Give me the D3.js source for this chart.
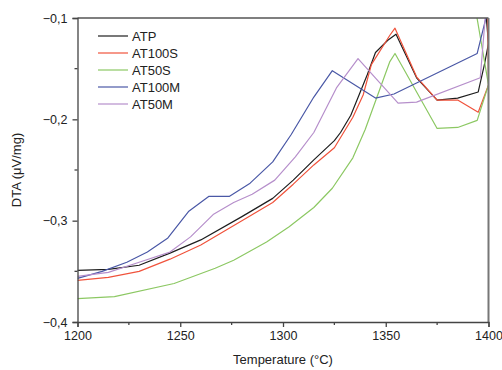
<!DOCTYPE html>
<html>
<head>
<meta charset="utf-8">
<script src="https://cdn.jsdelivr.net/npm/d3@7"></script>
<style>
  body { margin: 0; background: #fff; }
  text { font-family: "Liberation Sans", Arial, sans-serif; fill: #222; }
</style>
</head>
<body>
<script>
// series: temperature (°C) and DTA (µV/mg)
const seriesNames = ['ATP', 'AT100S', 'AT50S', 'AT100M', 'AT50M'];
const seriesColors = ['#1e1e1e', '#f0533c', '#8cc863', '#4a58a6', '#b68fcb'];

const atpT = [1200, 1215, 1230, 1245, 1260, 1280, 1295, 1305, 1315, 1325, 1328, 1333, 1337, 1341, 1345, 1351, 1355, 1365, 1375, 1385, 1395, 1398, 1400, 1398.5];
const atpV = [-0.349, -0.348, -0.344, -0.332, -0.319, -0.296, -0.278, -0.260, -0.240, -0.221, -0.213, -0.196, -0.176, -0.156, -0.134, -0.122, -0.116, -0.159, -0.181, -0.179, -0.173, -0.146, -0.125, -0.09];

const at100sT = [1200, 1215, 1230, 1245, 1260, 1280, 1295, 1305, 1315, 1325, 1334, 1339, 1343, 1352, 1354.5, 1365, 1375, 1385, 1395, 1400, 1399.5];
const at100sV = [-0.359, -0.356, -0.350, -0.338, -0.324, -0.300, -0.282, -0.264, -0.245, -0.228, -0.198, -0.176, -0.146, -0.117, -0.110, -0.158, -0.181, -0.181, -0.193, -0.166, -0.09];

const at50sT = [1200, 1218, 1247, 1267, 1276, 1292, 1303, 1315, 1324, 1334, 1340, 1352, 1354.5, 1375, 1385, 1394.5, 1400, 1394];
const at50sV = [-0.377, -0.375, -0.362, -0.347, -0.339, -0.321, -0.306, -0.287, -0.268, -0.238, -0.210, -0.143, -0.135, -0.209, -0.208, -0.201, -0.166, -0.095];

const at100mT = [1200, 1212, 1224, 1234, 1244, 1254, 1264, 1274, 1284, 1295, 1304, 1315, 1324, 1345, 1354, 1394.5, 1399, 1399.6];
const at100mV = [-0.357, -0.350, -0.341, -0.331, -0.317, -0.291, -0.276, -0.276, -0.263, -0.242, -0.215, -0.178, -0.152, -0.179, -0.175, -0.135, -0.098, -0.08];

const at50mT = [1200, 1215, 1230, 1245, 1255, 1266, 1276, 1285, 1296, 1306, 1315, 1326, 1336.5, 1356, 1365, 1396, 1398.3, 1399];
const at50mV = [-0.355, -0.351, -0.341, -0.331, -0.316, -0.294, -0.282, -0.274, -0.260, -0.237, -0.213, -0.169, -0.140, -0.184, -0.183, -0.159, -0.102, -0.085];

const xTicks = [1200, 1250, 1300, 1350, 1400];
const xMinor = [1225, 1275, 1325, 1375];
const yTicks = [-0.1, -0.2, -0.3, -0.4];
const yMinor = [-0.15, -0.25, -0.35];

const seriesData = [
    d3.zip(atpT, atpV),
    d3.zip(at100sT, at100sV),
    d3.zip(at50sT, at50sV),
    d3.zip(at100mT, at100mV),
    d3.zip(at50mT, at50mV)
];

const chart = { w: 502, h: 370, left: 77.5, right: 488.5, top: 18, bottom: 322 };

const svg = d3.select('body')
    .append('svg')
    .attr('width', chart.w)
    .attr('height', chart.h);

// SCALES

const xScale = d3.scaleLinear()
    .domain([1200, 1400])
    .range([chart.left, chart.right]);

const yScale = d3.scaleLinear()
    .domain([-0.4, -0.1])
    .range([chart.bottom, chart.top]);

const fmt = d3.format('.1f');
const comma = d => fmt(d).replace('.', ',');

// CLIP

svg.append('clipPath')
    .attr('id', 'plot')
    .append('rect')
    .attr('x', chart.left)
    .attr('y', chart.top)
    .attr('width', chart.right - chart.left)
    .attr('height', chart.bottom - chart.top);

// LINES

const line = d3.line()
    .x(d => xScale(d[0]))
    .y(d => yScale(d[1]));

svg.append('g')
    .attr('clip-path', 'url(#plot)')
    .selectAll('path')
    .data(seriesData)
    .enter()
    .append('path')
    .attr('d', line)
    .attr('fill', 'none')
    .attr('stroke', (d, i) => seriesColors[i])
    .attr('stroke-width', 1.2)
    .attr('stroke-linejoin', 'round');

// FRAME (top and right)

svg.append('line')
    .attr('x1', chart.left).attr('x2', chart.right)
    .attr('y1', chart.top).attr('y2', chart.top)
    .attr('stroke', '#555').attr('stroke-width', 1.3);

svg.append('line')
    .attr('x1', chart.right).attr('x2', chart.right)
    .attr('y1', chart.top).attr('y2', chart.bottom)
    .attr('stroke', '#777').attr('stroke-width', 2);

// AXES

const xAxis = d3.axisBottom(xScale).tickValues(xTicks).tickSize(5).tickPadding(4).tickFormat(d3.format('d'));
const gx = svg.append('g')
    .attr('transform', 'translate(0,' + chart.bottom + ')')
    .call(xAxis);
gx.selectAll('.minor')
    .data(xMinor)
    .enter()
    .append('line')
    .attr('x1', d => xScale(d)).attr('x2', d => xScale(d))
    .attr('y1', 0).attr('y2', 3);

const yAxis = d3.axisLeft(yScale).tickValues(yTicks).tickSize(5).tickPadding(5).tickFormat(comma);
const gy = svg.append('g')
    .attr('transform', 'translate(' + chart.left + ',0)')
    .call(yAxis);
gy.selectAll('.minor')
    .data(yMinor)
    .enter()
    .append('line')
    .attr('y1', d => yScale(d)).attr('y2', d => yScale(d))
    .attr('x1', 0).attr('x2', -3);

[gx, gy].forEach(g => {
    g.select('.domain').attr('stroke', '#444').attr('stroke-width', 1.3);
    g.selectAll('line').attr('stroke', '#444').attr('stroke-width', 1.3);
    g.selectAll('text')
        .attr('font-size', '12.5px')
        .attr('font-family', '"Liberation Sans", Arial, sans-serif')
        .attr('fill', '#222');
});

// AXIS TITLES

svg.append('text')
    .attr('x', 283)
    .attr('y', 364)
    .attr('text-anchor', 'middle')
    .attr('font-size', '13px')
    .text('Temperature (°C)');

svg.append('text')
    .attr('transform', 'translate(21,170) rotate(-90)')
    .attr('text-anchor', 'middle')
    .attr('font-size', '13px')
    .text('DTA (μV/mg)');

// LEGEND

const legend = svg.append('g')
    .selectAll('g')
    .data(seriesNames)
    .enter()
    .append('g')
    .attr('transform', (d, i) => 'translate(98,' + (36 + i * 17) + ')');

legend.append('line')
    .attr('x1', 0).attr('x2', 30)
    .attr('stroke', (d, i) => seriesColors[i])
    .attr('stroke-width', 1.2);

legend.append('text')
    .attr('x', 34)
    .attr('dy', '0.35em')
    .attr('font-size', '13px')
    .text(d => d);
</script>
</body>
</html>
